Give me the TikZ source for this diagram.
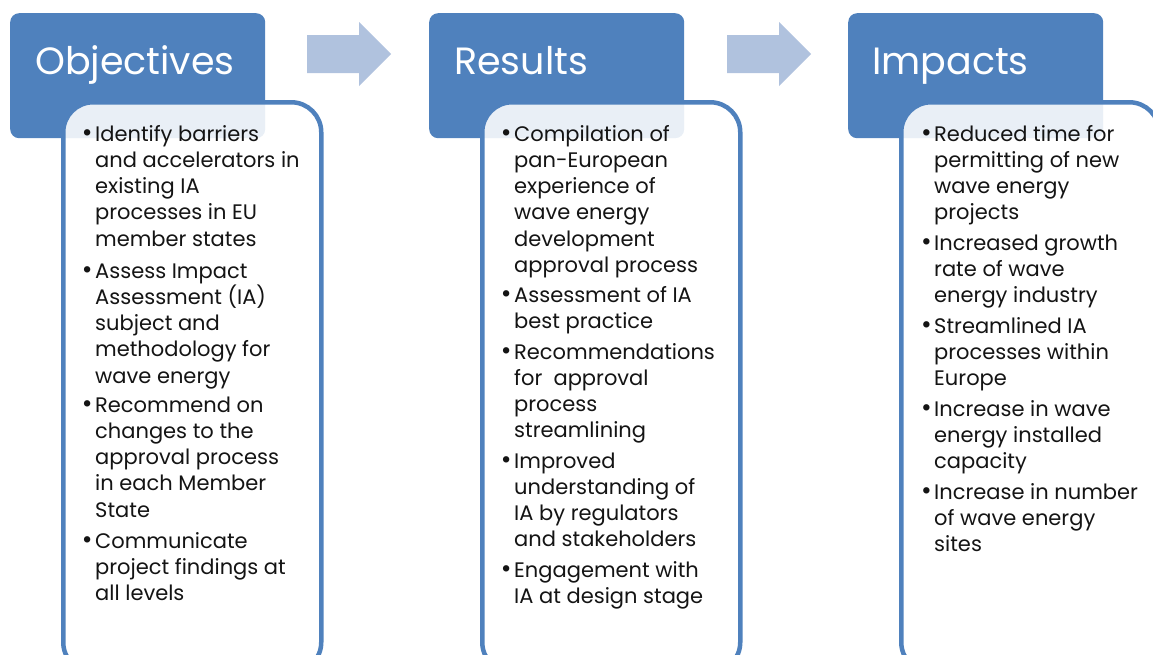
\documentclass[tikz,border=0pt]{standalone}
\usepackage{fontspec}
\setmainfont{Poppins}
\definecolor{hdr}{HTML}{4F81BD}
\definecolor{arr}{HTML}{B0C2DE}
\definecolor{txt}{HTML}{141414}
\begin{document}
\begin{tikzpicture}[x=1pt,y=-1pt,
  header/.style={fill=hdr, rounded corners=9pt, anchor=north west, minimum width=255pt, minimum height=125pt, inner sep=0pt},
  htext/.style={anchor=base west, text=white, font=\fontsize{38}{46}\selectfont, inner sep=0pt},
  panel/.style={draw=hdr, line width=4.5pt, fill=white, fill opacity=0.88, draw opacity=1, rounded corners=30pt, anchor=north west, minimum width=258pt, minimum height=570pt, inner sep=0pt},
  btext/.style={anchor=base west, align=left, text=txt, font=\fontsize{21}{26.3}\selectfont, inner sep=0pt},
  blockarrow/.style={fill=arr}
]
\useasboundingbox (0,0) rectangle (1153,654);
\clip (0,0) rectangle (1153,654);
% headers
\node[header] (h1) at (10,13) {};
\node[header] (h2) at (429,13) {};
\node[header] (h3) at (848,13) {};
\node[htext] (t1) at (35,74) {Objectives};
\node[htext] (t2) at (454,74) {Results};
\node[htext] (t3) at (872,74) {Impacts};
% arrows
\fill[blockarrow] (307,35) -- (359,35) -- (359,22) -- (391,54) -- (359,86) -- (359,73) -- (307,73) -- cycle;
\fill[blockarrow] (727,35) -- (779,35) -- (779,22) -- (811,54) -- (779,86) -- (779,73) -- (727,73) -- cycle;
% panels
\node[panel] (p1) at (61,100) {};
\node[panel] (p2) at (480,100) {};
\node[panel] (p3) at (899,100) {};
\newcommand{\bul}{\llap{\raisebox{0pt}{\fontsize{26}{26}\selectfont\textbullet}\hspace{2.5pt}}}
% panel 1 (anchor = baseline of last line)
\node[btext] (a1) at (95,246.2) {\bul Identify barriers\\and accelerators in\\existing IA\\processes in EU\\member states};
\node[btext] (a2) at (95,383.2) {\bul Assess Impact\\Assessment (IA)\\subject and\\methodology for\\wave energy};
\node[btext] (a3) at (95,517.2) {\bul Recommend on\\changes to the\\approval process\\in each Member\\State};
\node[btext] (a4) at (95,600.6) {\bul Communicate\\project findings at\\all levels};
% panel 2
\node[btext] (b1) at (514,272.5) {\bul Compilation of\\pan-European\\experience of\\wave energy\\development\\approval process};
\node[btext] (b2) at (514,328.3) {\bul Assessment of IA\\best practice};
\node[btext] (b3) at (514,437.9) {\bul Recommendations\\for\ \ approval\\process\\streamlining};
\node[btext] (b4) at (514,546.9) {\bul Improved\\understanding of\\IA by regulators\\and stakeholders};
\node[btext] (b5) at (514,603.3) {\bul Engagement with\\IA at design stage};
% panel 3
\node[btext] (c1) at (934,219.9) {\bul Reduced time for\\permitting of new\\wave energy\\projects};
\node[btext] (c2) at (934,302.6) {\bul Increased growth\\rate of wave\\energy industry};
\node[btext] (c3) at (934,385.6) {\bul Streamlined IA\\processes within\\Europe};
\node[btext] (c4) at (934,468.6) {\bul Increase in wave\\energy installed\\capacity};
\node[btext] (c5) at (934,551.6) {\bul Increase in number\\of wave energy\\sites};
\end{tikzpicture}
\end{document}
